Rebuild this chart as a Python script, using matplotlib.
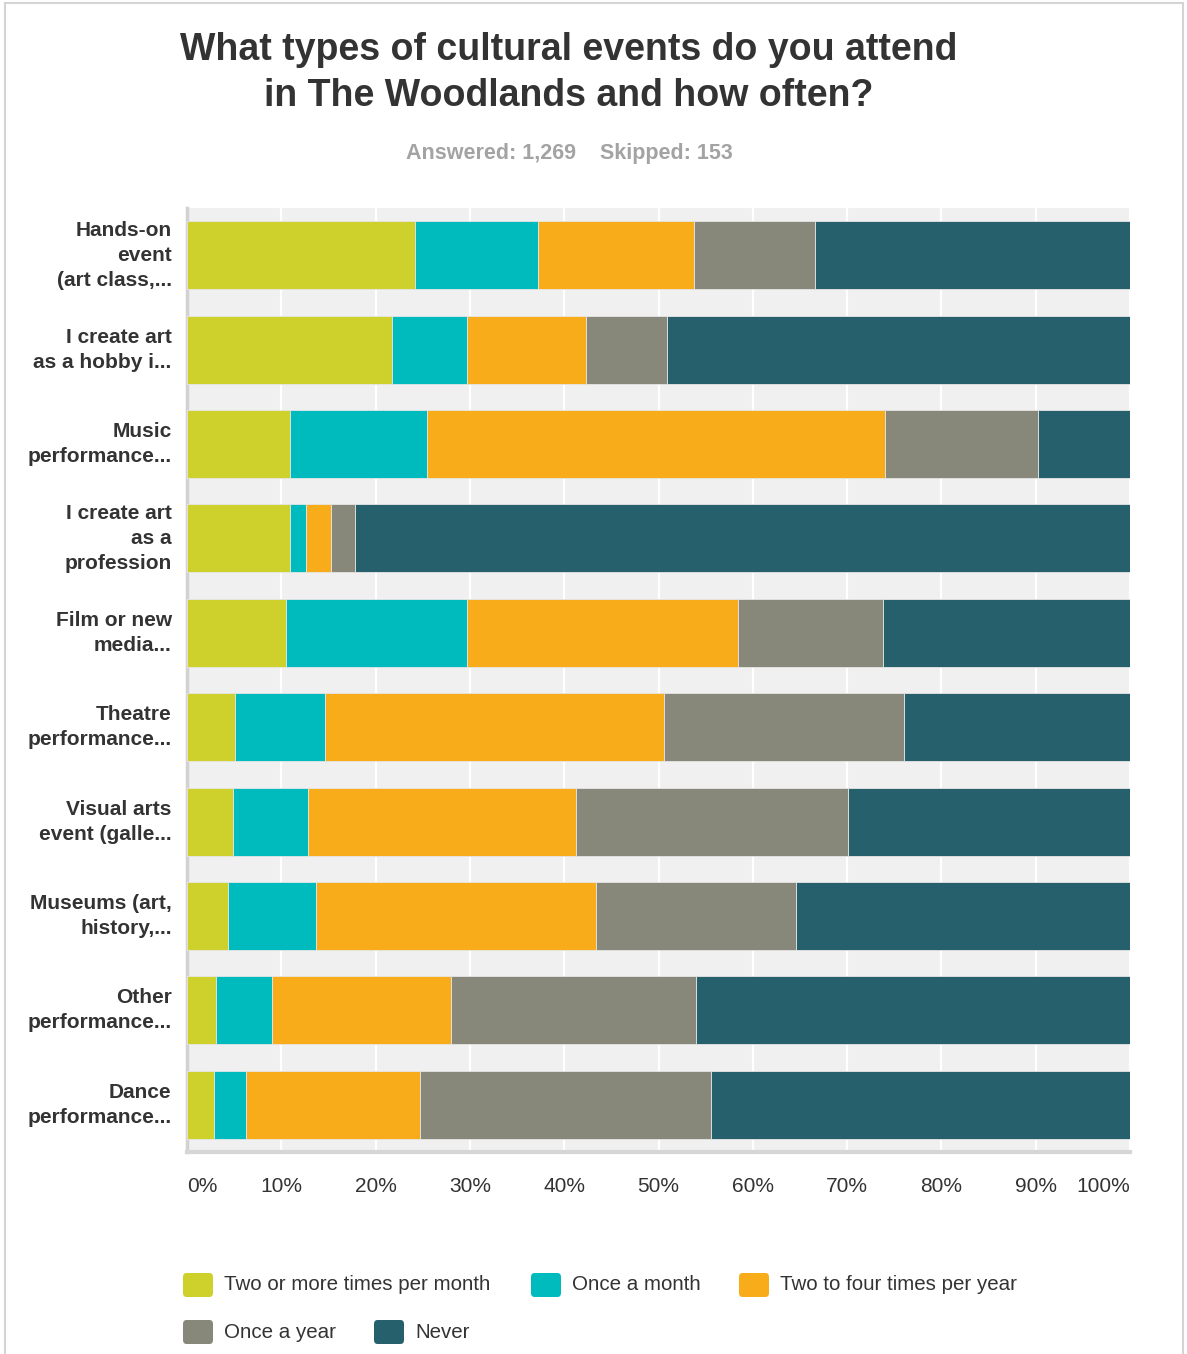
import matplotlib.pyplot as plt
import numpy as np
from matplotlib.patches import FancyBboxPatch
from matplotlib.lines import Line2D

plt.rcParams['font.family'] = ['Liberation Sans', 'DejaVu Sans']

# data (percent of respondents), top row first
categories = [
    "Hands-on\nevent\n(art class,...",
    "I create art\nas a hobby i...",
    "Music\nperformance...",
    "I create art\nas a\nprofession",
    "Film or new\nmedia...",
    "Theatre\nperformance...",
    "Visual arts\nevent (galle...",
    "Museums (art,\nhistory,...",
    "Other\nperformance...",
    "Dance\nperformance...",
]
series_names = [
    "Two or more times per month",
    "Once a month",
    "Two to four times per year",
    "Once a year",
    "Never",
]
two_plus_month = [24.2, 21.7, 10.9, 10.9, 10.5, 5.1, 4.9, 4.3, 3.1, 2.9]
once_month = [13.0, 8.0, 14.5, 1.7, 19.2, 9.5, 7.9, 9.4, 5.9, 3.4]
two_four_year = [16.6, 12.6, 48.6, 2.7, 28.7, 36.0, 28.5, 29.7, 19.0, 18.4]
once_year = [12.8, 8.6, 16.2, 2.5, 15.4, 25.4, 28.8, 21.2, 26.0, 30.9]
never = [33.4, 49.1, 9.8, 82.2, 26.2, 24.0, 29.9, 35.4, 46.0, 44.4]
x_ticks = [0, 10, 20, 30, 40, 50, 60, 70, 80, 90, 100]

colors = ["#CED12C", "#00BBBD", "#F9AC19", "#88887A", "#27606D"]


def main():
    fig = plt.figure(figsize=(11.87, 13.54), dpi=100)
    ax = fig.add_axes([187 / 1187, 1 - 1152 / 1354, 943 / 1187, 944 / 1354])
    ax.set_facecolor("#f0f0f0")

    y = np.arange(len(categories))
    left = np.zeros(len(categories))
    for name, vals, c in zip(
        series_names,
        [two_plus_month, once_month, two_four_year, once_year, never],
        colors,
    ):
        v = np.array(vals)
        ax.barh(y, v, left=left, height=0.72, color=c, edgecolor="#e6e6e6",
                linewidth=0.6, label=name, zorder=3)
        left += v

    ax.set_xlim(0, 100)
    ax.set_ylim(len(categories) - 0.5, -0.5)
    ax.set_xticks(x_ticks)
    ax.set_xticklabels([f"{t}%" for t in x_ticks], fontsize=15, color="#333333")
    for i, lab in enumerate(ax.get_xticklabels()):
        if i == 0:
            lab.set_ha("left")
        elif i == len(x_ticks) - 1:
            lab.set_ha("right")
    ax.set_yticks(y)
    ax.set_yticklabels(categories, fontsize=15, fontweight="bold",
                       color="#333333", linespacing=1.4)
    for lab in ax.get_yticklabels():
        lab.set_va("center")
    ax.tick_params(axis="x", length=0, pad=18)
    ax.tick_params(axis="y", length=0, pad=11)
    ax.grid(axis="x", color="white", linewidth=1.6, zorder=0)
    ax.set_axisbelow(True)
    for s in ("top", "right"):
        ax.spines[s].set_visible(False)
    ax.spines["left"].set_color("#d2d2d2")
    ax.spines["left"].set_linewidth(2.5)
    ax.spines["bottom"].set_color("#d6d6d6")
    ax.spines["bottom"].set_linewidth(3)

    # title and subtitle
    fig.text(569 / 1187, 1 - 73 / 1354,
             "What types of cultural events do you attend\nin The Woodlands and how often?",
             ha="center", va="center", fontsize=27, fontweight="bold",
             color="#333333", linespacing=1.34)
    fig.text(569 / 1187, 1 - 153 / 1354, "Answered: 1,269    Skipped: 153",
             ha="center", va="center", fontsize=15.5, fontweight="bold",
             color="#a3a3a3")

    # legend laid out as in the original (flowing rows)
    legend_pos = [(183, 1285), (531, 1285), (739, 1285), (183, 1332), (374, 1332)]
    W, H = 1187, 1354
    for (px, py), name, c in zip(legend_pos, series_names, colors):
        box = FancyBboxPatch((px / W, 1 - (py + 12) / H), 30 / W, 24 / H,
                             boxstyle="round,pad=0,rounding_size=0.003",
                             transform=fig.transFigure, facecolor=c,
                             edgecolor="none")
        fig.patches.append(box)
        fig.text((px + 41) / W, 1 - py / H, name, ha="left", va="center",
                 fontsize=14.8, color="#333333")

    # outer frame
    for xs, ys in [((5, 5), (3, 1354)), ((5, 1183), (3, 3)), ((1183, 1183), (3, 1354))]:
        fig.lines.append(Line2D([x / W for x in xs], [1 - v / H for v in ys],
                                transform=fig.transFigure, color="#d4d4d4",
                                linewidth=1.5))

    fig.savefig("out.png", dpi=100)


if __name__ == "__main__":
    main()
